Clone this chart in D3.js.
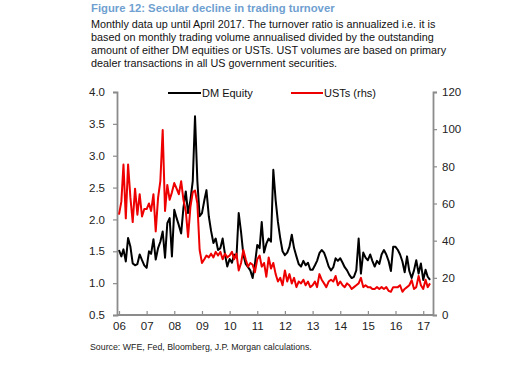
<!DOCTYPE html>
<html><head><meta charset="utf-8">
<script src="https://cdn.jsdelivr.net/npm/d3@7"></script>
<style>body{margin:0;background:#fff;}svg{display:block;font-family:"Liberation Sans",Arial,sans-serif;}</style>
</head><body>
<script>
const startYear = 2006;
const dmEquity = [
 1.52,1.42,1.53,1.34,1.71,1.57,1.31,1.28,1.30,1.45,1.36,1.28,
 1.24,1.50,1.46,1.69,1.37,1.55,1.65,1.81,1.40,1.94,2.02,1.42,
 2.15,2.02,1.91,1.78,2.18,2.44,2.10,2.30,2.60,3.62,2.60,2.05,
 2.10,2.30,2.46,2.05,1.82,1.63,1.70,1.52,1.55,1.70,1.45,1.26,
 1.38,1.32,1.45,1.40,2.10,1.80,1.45,1.30,1.25,1.20,1.08,1.30,
 1.60,1.55,1.96,1.48,1.62,1.70,1.65,2.78,2.30,1.96,1.70,1.50,
 1.44,1.48,1.57,1.76,1.55,1.42,1.30,1.26,1.35,1.28,1.32,1.21,
 1.21,1.28,1.35,1.47,1.52,1.48,1.38,1.26,1.20,1.25,1.39,1.35,
 1.39,1.32,1.25,1.20,1.13,1.08,1.10,1.20,1.70,1.15,1.48,1.40,
 1.36,1.45,1.35,1.26,1.35,1.30,1.45,1.52,1.45,1.35,1.19,1.57,
 1.57,1.52,1.45,1.34,1.17,1.42,1.19,1.08,1.20,1.36,1.15,1.31,
 1.05,1.21,1.10,1.05
];
const usts = [
 54,61,81,52,81,63,50,68,54,65,53,57,
 57,60,56,65,45,63,72,99.5,56,70,62,66,
 71,68,65,72,62,56,42,58,66,67,60,35,
 28,30,32,31,33,31,34,32,34,30,33,31,
 32,34,30,33,24,28,35,30,26,28,27,23,
 30,32,26,28,20.6,31,25,28,22,18,20,16,
 24,18,22,17,20,15,18,17,19,16,18,15,
 16,18,15,22,19,17,15,18,19,18,21,16,
 18,16,15,17,16,14,15,16,17,20,15,16,
 15,15,14,14,15,14,15,14,15,13,12.5,15,
 15,15,16,12.5,14,15,16,18.8,14,15,21,16,
 14,19,15,17
];
const leftTicks = [0.5,1.0,1.5,2.0,2.5,3.0,3.5,4.0];
const rightTicks = [0,20,40,60,80,100,120];
const yearTicks = [2006,2007,2008,2009,2010,2011,2012,2013,2014,2015,2016,2017];
const titleText = "Figure 12: Secular decline in trading turnover";
const subtitleLines = [
 "Monthly data up until April 2017. The turnover ratio is annualized i.e. it is",
 "based on monthly trading volume annualised divided by the outstanding",
 "amount of either DM equities or USTs. UST volumes are based on primary",
 "dealer transactions in all US government securities."
];
const sourceText = "Source: WFE, Fed, Bloomberg, J.P. Morgan calculations.";
const seriesNames = ["DM Equity","USTs (rhs)"];

const W=514,H=365;
const svg=d3.select("body").append("svg").attr("width",W).attr("height",H);
svg.append("rect").attr("width",W).attr("height",H).attr("fill","#fff");

const dates = dmEquity.map((d,i)=>new Date(startYear, i, 1));
const x = d3.scaleTime().domain([new Date(2006,0,1), new Date(2017,4,10)]).range([119,433]);
const yL = d3.scaleLinear().domain([0.5,4.0]).range([315,92]);
const yR = d3.scaleLinear().domain([0,120]).range([315,92]);

// title
svg.append("text").attr("x",91).attr("y",12).attr("font-size",11.3).attr("font-weight","bold")
  .attr("fill","#6f9fd0").text(titleText);
subtitleLines.forEach((t,i)=>{
  svg.append("text").attr("x",91).attr("y",28+i*13).attr("font-size",10.8).attr("fill","#111").text(t);
});
svg.append("text").attr("x",90).attr("y",350).attr("font-size",8.8).attr("fill","#222").text(sourceText);

const axisColor="#8c8c8c";
// left axis
const gL=svg.append("g").attr("transform","translate(117,0)")
  .call(d3.axisLeft(yL).tickValues(leftTicks).tickFormat(d3.format(".1f")).tickSize(4).tickPadding(8));
// right axis
const gR=svg.append("g").attr("transform","translate(433,0)")
  .call(d3.axisRight(yR).tickValues(rightTicks).tickFormat(d3.format("d")).tickSize(4).tickPadding(5));
// bottom axis
const gB=svg.append("g").attr("transform","translate(0,315)")
  .call(d3.axisBottom(x).tickValues(yearTicks.map(y=>new Date(y,0,1))).tickFormat(d3.timeFormat("%y")).tickSize(-4).tickPadding(7));
[gL,gR,gB].forEach(g=>{
  g.select(".domain").attr("stroke",axisColor).attr("stroke-width",1.8);
  g.selectAll(".tick line").attr("stroke",axisColor).attr("stroke-width",1.2);
  g.selectAll(".tick text").attr("fill","#222").attr("font-size",11.5).attr("font-family","Liberation Sans, Arial, sans-serif");
});
gB.select(".domain").attr("d","M117,0H433");

// lines
const lineEq=d3.line().x((d,i)=>x(dates[i])).y(d=>yL(d));
const lineUst=d3.line().x((d,i)=>x(dates[i])).y(d=>yR(d));
svg.append("path").datum(dmEquity).attr("d",lineEq).attr("fill","none").attr("stroke","#000").attr("stroke-width",2).attr("stroke-linejoin","round");
svg.append("path").datum(usts).attr("d",lineUst).attr("fill","none").attr("stroke","#ee0000").attr("stroke-width",2).attr("stroke-linejoin","round");

// legend
svg.append("line").attr("x1",168).attr("x2",201).attr("y1",93).attr("y2",93).attr("stroke","#000").attr("stroke-width",2);
svg.append("text").attr("x",202).attr("y",97).attr("font-size",11).attr("fill","#111").text(seriesNames[0]);
svg.append("line").attr("x1",291).attr("x2",323).attr("y1",93).attr("y2",93).attr("stroke","#ee0000").attr("stroke-width",2);
svg.append("text").attr("x",324).attr("y",97).attr("font-size",11).attr("fill","#111").text(seriesNames[1]);
</script>
</body></html>
